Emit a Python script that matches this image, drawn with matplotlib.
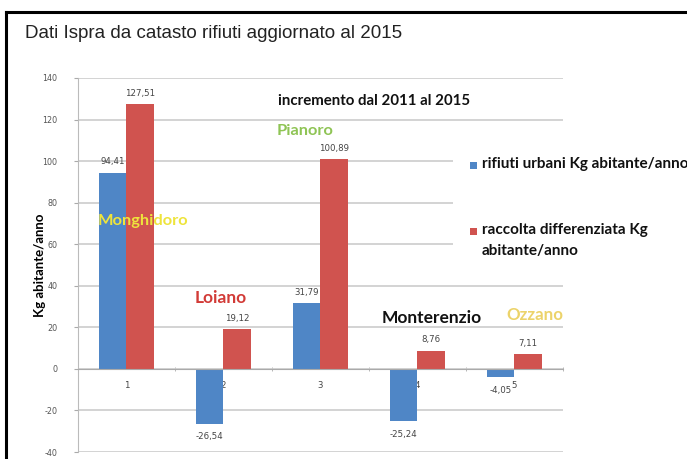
import numpy as np
import matplotlib.pyplot as plt
from matplotlib.patches import Rectangle
from matplotlib.lines import Line2D

plt.rcParams['axes.unicode_minus'] = False

# Dati (incremento dal 2011 al 2015, Kg abitante/anno)
categorie = ['1', '2', '3', '4', '5']
rifiuti_urbani = [94.41, -26.54, 31.79, -25.24, -4.05]
raccolta_diff = [127.51, 19.12, 100.89, 8.76, 7.11]
etichette_ru = ['94,41', '-26,54', '31,79', '-25,24', '-4,05']
etichette_rd = ['127,51', '19,12', '100,89', '8,76', '7,11']

comuni = ['Monghidoro', 'Loiano', 'Pianoro', 'Monterenzio', 'Ozzano']
colori_comuni = ['#eee43c', '#d23b37', '#8fc455', '#111111', '#ecd36a']
pos_comuni = [(1.17, 71), (1.97, 34), (2.84, 114.5), (4.15, 24.5), (5.21, 26)]
size_comuni = [11.8, 12.5, 11.8, 12.5, 12.2]

blu = '#4f86c6'
rosso = '#d0534f'

fig = plt.figure(figsize=(6.87, 4.59), dpi=100)
ax = fig.add_axes([0.1135, 0.0152, 0.706, 0.815])

x = np.arange(1, 6)
w = 0.28
ax.bar(x - w / 2, rifiuti_urbani, w, color=blu, zorder=3)
ax.bar(x + w / 2, raccolta_diff, w, color=rosso, zorder=3)

for xi, v, t in zip(x, rifiuti_urbani, etichette_ru):
    off = 3 if v >= 0 else -4
    ax.text(xi - w / 2, v + off, t, ha='center', va='bottom' if v >= 0 else 'top',
            fontsize=6.2, color='#444444')
for xi, v, t in zip(x, raccolta_diff, etichette_rd):
    ax.text(xi + w / 2, v + 3, t, ha='center', va='bottom', fontsize=6.2, color='#444444')

# asse e griglia
ax.set_xlim(0.5, 5.5)
ax.set_ylim(-40, 140)
ax.set_yticks(np.arange(-40, 141, 20))
ax.tick_params(axis='y', labelsize=5.8, labelcolor='#555555', length=3, color='#aaaaaa', pad=12)
ax.grid(axis='y', color='#cccccc', linewidth=1.2, zorder=0)
for s in ['top', 'right']:
    ax.spines[s].set_visible(False)
ax.spines['left'].set_color('#bbbbbb')
ax.spines['bottom'].set_position(('data', 0))
ax.spines['bottom'].set_color('#aaaaaa')
ax.spines['bottom'].set_zorder(4)
ax.set_xticks(x)
ax.set_xticklabels(categorie)
ax.set_xticks(np.arange(0.5, 5.6, 1), minor=True)
ax.tick_params(axis='x', which='major', length=0, labelsize=6.2, labelcolor='#444444', pad=9)
ax.tick_params(axis='x', which='minor', length=3, color='#aaaaaa', direction='inout')
ax.set_ylabel('Kg abitante/anno', fontsize=9.5, fontweight='bold', family='Lato')
ax.yaxis.set_label_coords(-0.066, 0.5)

# nomi dei comuni
for nome, col, (px, py), fs in zip(comuni, colori_comuni, pos_comuni, size_comuni):
    ax.text(px, py, nome, ha='center', va='center', fontsize=fs, fontweight='bold',
            family='Lato', color=col, zorder=5)

ax.text(3.55, 129, 'incremento dal 2011 al 2015', ha='center', va='center',
        fontsize=10.8, family='Lato', fontweight='bold', color='#111111', zorder=5)

fig.text(25 / 687, 1 - 33 / 459, 'Dati Ispra da catasto rifiuti aggiornato al 2015',
         ha='left', va='center', fontsize=13.5, family='Liberation Sans', color='#222222')

# legenda (disegnata a mano, come nel grafico originale)
W, H = 687, 459
fig.add_artist(Rectangle((453 / W, 1 - 272 / H), 234 / W, 135 / H, transform=fig.transFigure,
                         facecolor='white', edgecolor='none', zorder=8))
voci = [(blu, 165, 'rifiuti urbani Kg abitante/anno'),
        (rosso, 231, 'raccolta differenziata Kg\nabitante/anno')]
for col, yp, lab in voci:
    fig.add_artist(Rectangle((470 / W, 1 - (yp + 4) / H), 7 / W, 7 / H,
                             transform=fig.transFigure, facecolor=col, edgecolor='none', zorder=9))
    fig.text(482 / W, 1 - (yp - 8) / H, lab, ha='left', va='top', fontsize=11,
             family='Lato', fontweight='bold', color='#111111', linespacing=1.6, zorder=9)

# cornice
fig.add_artist(Line2D([6 / W, 6 / W], [0, 1 - 12 / H], color='black', linewidth=2.2))
fig.add_artist(Line2D([6 / W, 1], [1 - 12 / H, 1 - 12 / H], color='black', linewidth=2.2))

fig.savefig('out.png', dpi=100)
